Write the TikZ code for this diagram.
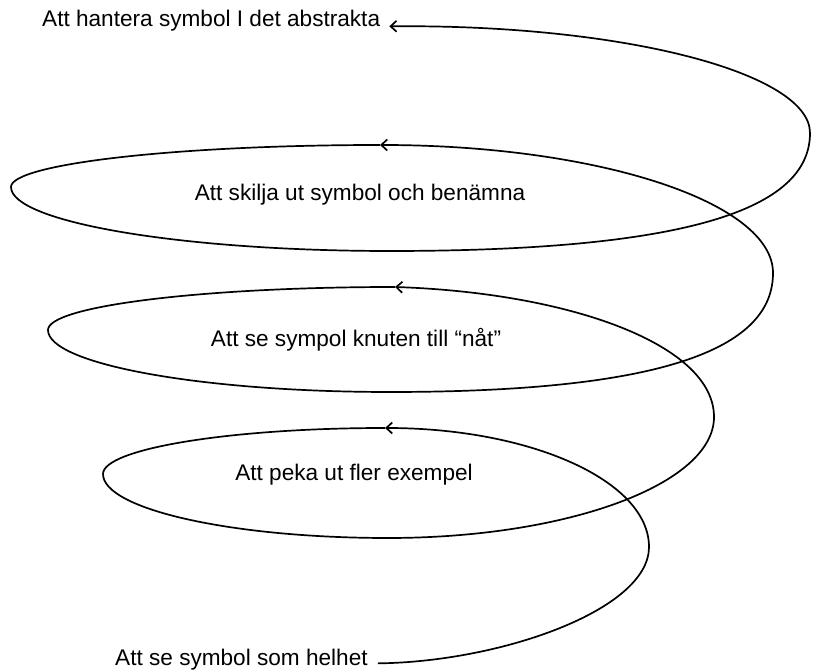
\documentclass[tikz,border=0pt]{standalone}
\usepackage{fontspec}
\setmainfont{Liberation Sans}
\usetikzlibrary{arrows.meta}

\begin{document}
\begin{tikzpicture}[x=1pt,y=1pt,>={Straight Barb[length=6pt,width=11pt]},
  lvl/.style={inner sep=0pt,font=\fontsize{22.6}{27}\selectfont},
  coil/.style={draw=black,line width=1.7pt}
]
  \useasboundingbox (0,0) rectangle (813,671);

  % levels, from the bottom up
  \node[lvl,anchor=base west] (helhet) at (115,5) {Att se symbol som helhet};
  \node[lvl] (exempel) at (354,196) {Att peka ut fler exempel};
  \node[lvl] (knuten) at (356,331) {Att se sympol knuten till “nåt”};
  \node[lvl] (benamna) at (360,476) {Att skilja ut symbol och benämna};
  \node[lvl,anchor=base west] (abstrakt) at (42,644) {Att hantera symbol I det abstrakta};

  \coordinate (a1) at (385,243);
  \coordinate (a2) at (395,384);
  \coordinate (a3) at (380,526);

  % the spiral, one turn per draw
  \draw[coil,->] ([xshift=10pt]helhet.mid east) .. controls (500,9) and (649,61) .. (649,124)
    .. controls (649,190) and (531,243) .. (a1);
  \draw[coil,->] (a1) .. controls (229,243) and (103,222) .. (103,197)
    .. controls (103,162) and (231,133) .. (388,133)
    .. controls (568,133) and (714,187) .. (714,254)
    .. controls (714,326) and (571,378) .. (a2);
  \draw[coil,->] (a2) .. controls (203,384) and (48,365) .. (48,341)
    .. controls (48,307) and (201,279) .. (390,279)
    .. controls (677,279) and (773,327) .. (773,398)
    .. controls (773,469) and (597,526) .. (a3);
  \draw[coil,->] (a3) .. controls (176,526) and (11,507) .. (11,484)
    .. controls (11,449) and (181,420) .. (390,420)
    .. controls (705,420) and (810,467) .. (810,538)
    .. controls (810,598) and (623,647) .. ([xshift=9pt,yshift=-2pt]abstrakt.mid east);
\end{tikzpicture}
\end{document}
